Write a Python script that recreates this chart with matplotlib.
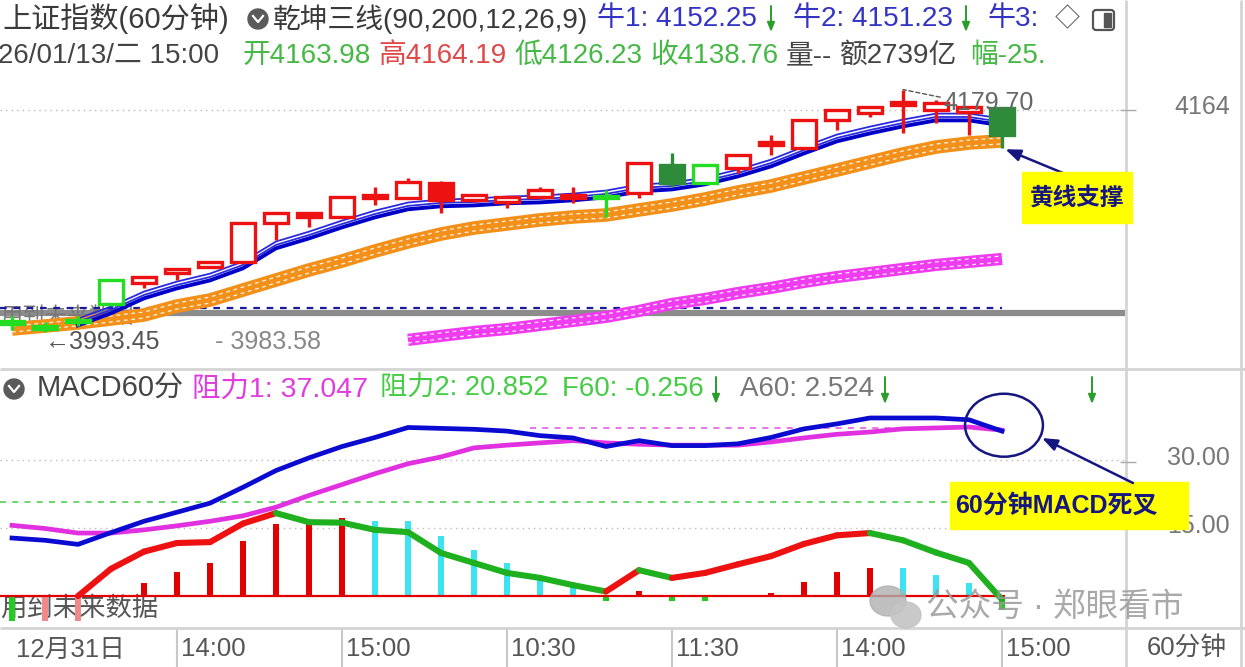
import numpy as np
import matplotlib.pyplot as plt
import matplotlib.transforms as mtransforms
from matplotlib.patches import Rectangle, Ellipse, FancyBboxPatch, Circle

plt.rcParams['font.family'] = ['Liberation Sans', 'Noto Sans CJK SC', 'DejaVu Sans']

W, H = 1245, 667

# 60-minute bars, 2025-12-31 11:30 ... 2026-01-13 15:00
opens = [4001.7, 3998.0, 4002.5, 4014.8, 4030.9, 4038.6, 4043.2, 4047.1, 4077.1, 4081.7,
         4081.7, 4096.3, 4096.3, 4107.8, 4094.8, 4093.2, 4097.1, 4096.3, 4097.8, 4100.2,
         4121.7, 4107.8, 4119.4, 4137.1, 4134.8, 4156.3, 4161.7, 4167.8, 4164.0, 4162.5, 4165.5]
closes = [3999.4, 3995.5, 4000.9, 4033.2, 4035.5, 4041.7, 4047.1, 4077.1, 4084.8, 4084.8,
          4097.1, 4098.6, 4108.6, 4094.8, 4098.6, 4097.1, 4102.5, 4098.6, 4096.3, 4123.2,
          4107.8, 4121.7, 4129.4, 4139.4, 4156.3, 4164.0, 4166.3, 4170.2, 4169.4, 4166.3, 4144.8]
highs = [4005.5, 4000.9, 4005.5, 4033.2, 4035.5, 4041.7, 4047.1, 4077.1, 4084.8, 4084.8,
         4097.1, 4104.8, 4111.7, 4109.4, 4098.6, 4097.1, 4104.8, 4104.8, 4102.5, 4123.2,
         4130.9, 4121.7, 4129.4, 4144.8, 4156.3, 4164.0, 4166.3, 4179.7, 4171.7, 4166.3, 4165.5]
lows = [3994.8, 3993.45, 3997.8, 4014.8, 4027.1, 4033.2, 4042.5, 4047.1, 4064.0, 4074.0,
        4081.7, 4090.9, 4096.3, 4084.8, 4093.2, 4088.6, 4097.1, 4092.5, 4081.7, 4096.3,
        4104.8, 4107.8, 4115.5, 4129.4, 4134.8, 4148.6, 4158.6, 4146.3, 4154.0, 4144.8, 4134.8]
kinds = ['gf', 'gf', 'gf', 'gh', 'rh', 'rh', 'rh', 'rh', 'rh', 'rf', 'rh', 'rh', 'rh', 'rf',
         'rh', 'rh', 'rh', 'rh', 'gf', 'rh', 'df', 'gh', 'rh', 'rh', 'rh', 'rh', 'rh', 'rf',
         'rh', 'rh', 'df']

# 乾坤三线 bands
blue_line = [np.nan, np.nan, 4000.9, 4010.2, 4021.7, 4029.4, 4035.5, 4044.8, 4060.2, 4067.8,
             4076.3, 4084.0, 4090.2, 4092.5, 4093.2, 4094.8, 4095.5, 4097.1, 4099.4, 4104.0,
             4105.5, 4109.4, 4115.5, 4123.2, 4133.2, 4142.5, 4148.6, 4154.0, 4158.6, 4158.6, 4154.8]
orange_line = [3995.5, 3997.8, 4000.2, 4003.2, 4006.3, 4013.2, 4017.8, 4025.5, 4033.2, 4040.9,
               4047.8, 4055.5, 4062.5, 4068.6, 4073.2, 4076.3, 4079.4, 4081.7, 4083.2, 4087.1,
               4090.9, 4095.5, 4100.9, 4105.5, 4111.7, 4117.8, 4124.0, 4130.2, 4135.5, 4138.6, 4140.2]
pink_line = [np.nan] * 12 + [3987.1, 3990.2, 3993.2, 3995.5, 3998.6, 4001.7, 4004.8, 4009.4,
                             4014.8, 4018.6, 4023.2, 4027.1, 4031.7, 4035.5, 4038.6, 4041.7,
                             4044.8, 4047.1, 4049.4]
grey_level = 4007.8
dash_level = 4011.7

# MACD60分
dif = [12.8, 12.3, 11.4, 14.0, 16.5, 18.5, 20.5, 24.0, 27.7, 30.5, 33.0, 35.0, 37.2, 37.0,
       36.8, 36.4, 35.4, 34.9, 33.0, 34.3, 33.2, 33.2, 33.6, 35.0, 36.9, 38.0, 39.3, 39.3,
       39.3, 38.9, 36.4]
dea = [15.6, 14.9, 13.9, 13.9, 14.6, 15.5, 16.5, 17.7, 19.6, 22.2, 24.6, 27.0, 29.2, 30.7,
       32.7, 33.3, 33.8, 34.3, 33.8, 33.5, 33.3, 33.3, 33.3, 34.0, 34.9, 35.7, 36.2, 36.9,
       37.1, 37.3, 36.6]
osc = [np.nan, np.nan, 0.0, 6.0, 9.8, 11.7, 11.9, 16.0, 18.3, 16.3, 16.2, 14.6, 14.1, 9.5,
       7.3, 5.1, 4.0, 2.4, 1.0, 5.7, 4.0, 5.1, 7.0, 8.8, 11.5, 13.4, 13.9, 12.3, 9.6, 7.3, -0.8]
hist = [-5.5, -5.5, -5.5, 0.0, 2.9, 5.3, 7.3, 12.1, 15.9, 16.1, 17.2, 16.6, 16.6, 13.2, 10.2,
        7.3, 4.4, 2.4, -1.0, 1.0, -1.2, -1.2, 0.0, 0.7, 3.1, 5.3, 6.2, 6.2, 4.6, 2.9, -3.0]
hist_kind = ['g', 'p', 'p', 'r', 'r', 'r', 'r', 'r', 'r', 'r', 'r', 'c', 'c', 'c', 'c', 'c',
             'c', 'c', 'g', 'r', 'g', 'g', 'r', 'r', 'r', 'r', 'r', 'c', 'c', 'c', 'g']
resist1 = 37.047
resist2 = 20.852

tick_bars = [0, 5, 10, 15, 20, 25, 30]
tick_labels = ['12月31日', '14:00', '15:00', '10:30', '11:30', '14:00', '15:00']

RED = '#ee1111'
GREEN = '#22dd22'
DKGREEN = '#2e8b3a'
NAVY = '#161680'
ARROWG = '#2a9d2a'

fig = plt.figure(figsize=(W / 100, H / 100), dpi=100, facecolor='white')


def box(x0, y0, x1, y1):
    return [x0 / W, 1 - y1 / H, (x1 - x0) / W, (y1 - y0) / H]


ax = fig.add_axes(box(0, 0, 1125, 368))
axm = fig.add_axes(box(0, 370, 1125, 628))
axt = fig.add_axes(box(0, 628, 1125, 667))
ov = fig.add_axes([0, 0, 1, 1], zorder=10)
ov.set_xlim(0, W)
ov.set_ylim(H, 0)
ov.axis('off')
ov.patch.set_alpha(0)

xl = (-12 / 33, 1113 / 33)
for a in (ax, axm, axt):
    a.set_xlim(*xl)
    a.set_xticks([])
    a.set_yticks([])
    for s in a.spines.values():
        s.set_visible(False)
ax.set_ylim(3965.5, 4248.6)
axm.set_ylim(-7.06, 49.89)
axt.set_ylim(0, 1)

x = np.arange(len(opens))

# ---------------- main panel ----------------
ax.axhline(4164, color='#b8b8b8', ls=(0, (1, 3)), lw=1, zorder=0)
ax.axhline(grey_level, color='#8c8c8c', lw=4.5, zorder=1)
ax.hlines(dash_level, xl[0], 30, color='#1a1a9a', ls=(0, (3, 3)), lw=1.6, zorder=1.5)
ax.text(0, 0.135, '用到未来数据', transform=ax.transAxes, fontsize=16, color='#777',
        va='center', zorder=1.2)

bump = 2.3
for arr, col, lw in ((pink_line, '#f03cf0', 8.8), (orange_line, '#f39019', 9.8)):
    arr = np.array(arr)
    ax.plot(x, arr, color=col, lw=lw, solid_capstyle='butt', zorder=2)
    for off in (-bump, bump):
        ax.plot(x, arr + off, color='white', lw=0.9, ls=(0, (3, 3)), alpha=0.9, zorder=2.1)

bl = np.array(blue_line)
ax.plot(x, bl + 2.6, color='#2a2ae0', lw=1.3, zorder=3)
ax.plot(x, bl, color='#2a2ae0', lw=1.3, zorder=3)
ax.plot(x, bl - 2.6, color='#0000c8', lw=2.8, zorder=3)

colmap = {'gf': (GREEN, True), 'gh': (GREEN, False), 'rh': (RED, False),
          'rf': (RED, True), 'df': (DKGREEN, True)}
for i in range(len(opens)):
    col, filled = colmap[kinds[i]]
    top, bot = max(opens[i], closes[i]), min(opens[i], closes[i])
    if top - bot < 2:
        mid = (top + bot) / 2
        top, bot = mid + 1.1, mid - 1.1
    ax.vlines(i, top, highs[i], color=col, lw=2.4, zorder=4)
    ax.vlines(i, lows[i], bot, color=col, lw=2.4, zorder=4)
    ax.add_patch(Rectangle((i - 0.37, bot), 0.74, top - bot, facecolor=col if filled else 'white',
                           edgecolor=col, lw=2.4, zorder=4))

ax.text(1, 3985.5, '- 3983.58', fontsize=18, color='#888', va='center', ha='left',
        transform=ax.transData + mtransforms.ScaledTranslation(170 / 100, 0, fig.dpi_scale_trans),
        zorder=4.5)
ax.text(1, 3985.5, '←3993.45', fontsize=18, color='#555', va='center', ha='left', zorder=4.6)
ax.annotate('4179.70', xy=(27, highs[27]), xytext=(40, -13), textcoords='offset pixels',
            ha='left', va='center', fontsize=18, color='#666', zorder=4.6,
            arrowprops=dict(arrowstyle='-', ls=(0, (3, 2)), color='#555', lw=1,
                            shrinkA=0, shrinkB=0, relpos=(0, 0.7)))

# ---------------- MACD panel ----------------
for lv in (15, 30):
    axm.axhline(lv, color='#bbbbbb', ls=(0, (1, 3)), lw=1, zorder=0)
axm.axhline(resist2, color='#44cc44', ls=(0, (4, 4)), lw=1.1, zorder=0.5)
axm.hlines(resist1, 15.7, 30, color='#e050e0', ls=(0, (4, 4)), lw=1.1, zorder=0.5)
axm.text(0, 0.0775, '用到未来数据', transform=axm.transAxes, fontsize=19, color='#555',
         va='center', zorder=0.6)
hcol = {'g': '#22cc22', 'p': '#f08a8a', 'r': '#e00000', 'c': '#3de3f0'}
axm.bar(x, hist, width=0.17, color=[hcol[k] for k in hist_kind], zorder=1)
axm.hlines(0, xl[0], 30.1, color='#e00000', lw=1.6, zorder=1.5)

o = np.array(osc)
for i in range(len(o) - 1):
    if np.isnan(o[i]) or np.isnan(o[i + 1]):
        continue
    c = RED if o[i + 1] > o[i] else '#1fb01f'
    axm.plot([i, i + 1], [o[i], o[i + 1]], color=c, lw=4.4, solid_capstyle='round', zorder=2)
axm.plot(x, dea, color='#e030e0', lw=3.4, zorder=3)
axm.plot(x, dif, color='#0a0ad0', lw=3.4, zorder=3.1)
axm.add_patch(Ellipse((30.06, 37.7), 2.36, 13.9, fill=False, edgecolor=NAVY, lw=1.8, zorder=5))

# right axis labels
tr_main = mtransforms.blended_transform_factory(ax.transAxes, ax.transData)
tr_macd = mtransforms.blended_transform_factory(axm.transAxes, axm.transData)
ax.text(1230 / 1125, 4166, '4164', transform=tr_main, ha='right', va='center', fontsize=18,
        color='#777', clip_on=False)
for lv in (30, 15):
    axm.text(1230 / 1125, lv + 0.5, f'{lv:.2f}', transform=tr_macd, ha='right', va='center',
             fontsize=18, color='#777', clip_on=False)

# ---------------- time axis ----------------
axt.vlines(tick_bars[1:], 0, 1, color='#c8c8c8', lw=1.5)
for tb, lab in zip(tick_bars, tick_labels):
    axt.text(tb + 4 / 33, 0.45, lab, ha='left', va='center', fontsize=18.5, color='#555')

# ---------------- frame & headers ----------------
ov.hlines([369, 628], 0, W, color='#d4d4d4', lw=2)
ov.vlines([1126, 1241], 0, H, color='#d4d4d4', lw=2)
ov.hlines([110, 462], 1120, 1136, color='#aaaaaa', lw=1)
ov.text(1187, 648, '60分钟', ha='center', va='center', fontsize=18.5, color='#555')


def down_arrow(px, y0, y1):
    ov.annotate('', xy=(px, y1), xytext=(px, y0),
                arrowprops=dict(arrowstyle='-|>,head_width=0.22,head_length=0.55',
                                color=ARROWG, lw=1.4, shrinkA=0, shrinkB=0))


ov.text(3, 19, '上证指数(60分钟)', fontsize=21, color='#3a3a3a', va='center')
ov.add_patch(Circle((258, 19), 10, color='#5a5a5a'))
ov.plot([253, 258, 263], [16, 22, 16], color='white', lw=1.6)
ov.text(273, 19, '乾坤三线(90,200,12,26,9)', fontsize=20, color='#3a3a3a', va='center')
ov.text(597, 19, '牛1: 4152.25', fontsize=20.2, color='#3434c4', va='center')
down_arrow(771, 6, 32)
ov.text(793, 19, '牛2: 4151.23', fontsize=20.2, color='#3434c4', va='center')
down_arrow(966, 6, 32)
ov.text(988, 19, '牛3:', fontsize=20.2, color='#3434c4', va='center')
ov.text(1055, 19, '◇', fontsize=18, color='#555', va='center')
ov.add_patch(FancyBboxPatch((1093, 10), 21, 20, boxstyle='round,pad=0,rounding_size=3',
                            fill=False, edgecolor='#555', lw=1.6))
ov.add_patch(Rectangle((1104, 13), 7, 14, color='#555'))

row2 = [(-2, '26/01/13/二 15:00', '#444'), (243, '开4163.98', '#45b845'),
        (378, '高4164.19', '#e04848'), (514, '低4126.23', '#45b845'),
        (650, '收4138.76', '#45b845'), (786, '量--', '#444'),
        (840, '额2739亿', '#444'), (970, '幅-25.', '#45b845')]
for px, t, c in row2:
    ov.text(px, 56, t, fontsize=20, color=c, va='center')

ov.add_patch(Circle((14, 389), 10, color='#5a5a5a'))
ov.plot([9, 14, 19], [386, 392, 386], color='white', lw=1.6)
macd_head = [(37, 'MACD60分', '#444', 21), (192, '阻力1: 37.047', '#e03ce0', 20.5),
             (380, '阻力2: 20.852', '#44cc44', 19.6), (562, 'F60: -0.256', '#44cc44', 20),
             (740, 'A60: 2.524', '#777', 20)]
for px, t, c, f in macd_head:
    ov.text(px, 389, t, fontsize=f, color=c, va='center')
for px in (716, 885, 1092):
    down_arrow(px, 377, 404)

# annotations
ov.add_patch(Rectangle((1022, 172), 110, 51, color='#ffff00', zorder=6))
ov.text(1077, 198, '黄线支撑', ha='center', va='center', fontsize=17, fontweight='bold',
        color=NAVY, zorder=7)
ax.annotate('', xy=(30.1, lows[30] - 1), xytext=(1075, 178), textcoords=ov.transData,
            arrowprops=dict(arrowstyle='-|>,head_width=0.35,head_length=0.9', color=NAVY,
                            lw=1.8, shrinkA=0, shrinkB=0), zorder=6)

ov.add_patch(Rectangle((950, 482), 238, 47, color='#ffff00', zorder=6))
ov.text(955, 506, '60分钟MACD死叉', ha='left', va='center', fontsize=18, fontweight='bold',
        color=NAVY, zorder=7)
ov.annotate('', xy=(1042, 438), xytext=(1133, 483),
            arrowprops=dict(arrowstyle='-|>,head_width=0.35,head_length=0.9', color=NAVY,
                            lw=1.8, shrinkA=0, shrinkB=0), zorder=6)

# watermark
ov.add_patch(Ellipse((888, 601), 36, 30, color='#b0b0b0', alpha=0.8, zorder=8))
ov.add_patch(Ellipse((906, 615), 30, 26, color='#c4c4c4', alpha=0.9, zorder=8))
ov.text(926, 607, '公众号 · 郑眼看市', fontsize=23.5, color='#9a9a9a', alpha=0.85,
        va='center', zorder=8)

fig.savefig('out.png', dpi=100, facecolor='white')
